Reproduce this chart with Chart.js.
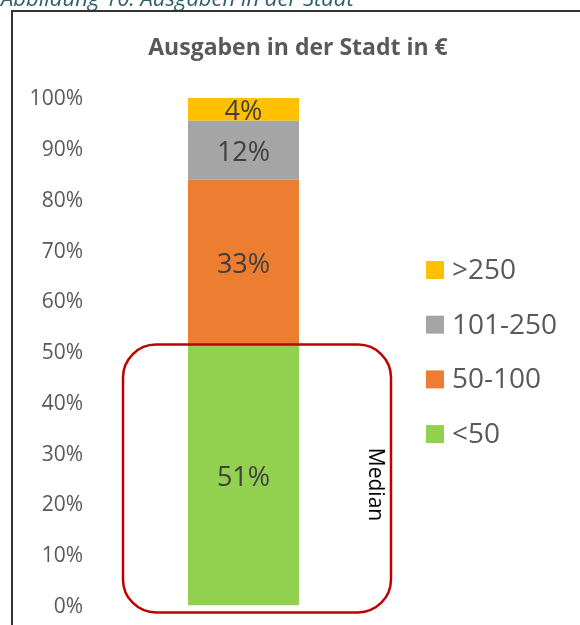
<!DOCTYPE html>
<html>
<head>
<meta charset="utf-8">
<script src="https://cdn.jsdelivr.net/npm/chart.js@4"></script>
<style>
    html, body { margin: 0; padding: 0; background: #fff; }
    canvas { display: block; }
</style>
</head>
<body>
<canvas id="cityChart" width="580" height="625"></canvas>
<script>
/* =========================
   DATA
========================= */

const categories = ["Ausgaben"];
const seriesLabels = ["<50", "50-100", "101-250", ">250"];
const seriesValues = [51.2, 32.7, 11.6, 4.5];
const valueLabels = ["51%", "33%", "12%", "4%"];
const seriesColors = ["#92D050", "#ED7D31", "#A5A5A5", "#FFC000"];
const tickValues = [0, 10, 20, 30, 40, 50, 60, 70, 80, 90, 100];

const FONT = "'Open Sans', 'DejaVu Sans', sans-serif";


/* =========================
   EXTRA DRAWING
========================= */

const decorPlugin = {
    id: "decor",
    afterDatasetsDraw(chart) {
        const ctx = chart.ctx;
        const yScale = chart.scales.y;

        // value labels inside the segments
        ctx.save();
        ctx.font = "27px " + FONT;
        ctx.fillStyle = "#404040";
        ctx.textAlign = "center";
        ctx.textBaseline = "middle";
        chart.data.datasets.forEach((ds, i) => {
            const bar = chart.getDatasetMeta(i).data[0];
            ctx.fillText(valueLabels[i], bar.x, (bar.y + bar.base) / 2 + 3);
        });
        ctx.restore();

        // median box
        const top = yScale.getPixelForValue(seriesValues[0]) - 1;
        const bottom = yScale.getPixelForValue(0) + 7;
        ctx.save();
        ctx.strokeStyle = "#C00000";
        ctx.lineWidth = 2.5;
        ctx.beginPath();
        ctx.roundRect(123, top, 268, bottom - top, 33);
        ctx.stroke();

        ctx.translate(375, (top + bottom) / 2 + 6);
        ctx.rotate(Math.PI / 2);
        ctx.font = "21px " + FONT;
        ctx.fillStyle = "#000";
        ctx.textAlign = "center";
        ctx.textBaseline = "middle";
        ctx.fillText("Median", 0, 0);
        ctx.restore();
    },
    afterDraw(chart) {
        const ctx = chart.ctx;
        ctx.save();

        // caption above the frame
        ctx.font = "italic 22px " + FONT;
        ctx.fillStyle = "#2F5F6E";
        ctx.textBaseline = "alphabetic";
        ctx.fillText("Abbildung 10: Ausgaben in der Stadt", 1, 6);

        // frame
        ctx.strokeStyle = "#333";
        ctx.lineWidth = 2;
        ctx.beginPath();
        ctx.moveTo(12, 625);
        ctx.lineTo(12, 11);
        ctx.lineTo(583, 11);
        ctx.stroke();

        // title
        ctx.font = "bold 23px " + FONT;
        ctx.fillStyle = "#595959";
        ctx.textAlign = "center";
        ctx.fillText("Ausgaben in der Stadt in €", 298, 55);

        // legend (reverse order, top = >250)
        ctx.font = "28px " + FONT;
        ctx.textAlign = "left";
        ctx.textBaseline = "middle";
        const order = seriesLabels.map((_, i) => i).reverse();
        order.forEach((idx, row) => {
            const cy = 270 + row * 54.7;
            ctx.fillStyle = seriesColors[idx];
            ctx.fillRect(426, cy - 9, 18, 18);
            ctx.fillStyle = "#595959";
            ctx.fillText(seriesLabels[idx], 452, cy + 1);
        });

        ctx.restore();
    }
};


/* =========================
   CHART
========================= */

new Chart(document.getElementById("cityChart"), {
    type: "bar",
    data: {
        labels: categories,
        datasets: seriesLabels.map((label, i) => ({
            label: label,
            data: [seriesValues[i]],
            backgroundColor: seriesColors[i],
            borderWidth: 0,
            categoryPercentage: 1,
            barPercentage: 0.3616
        }))
    },
    options: {
        responsive: false,
        animation: false,
        layout: {
            padding: { top: 98, bottom: 19, left: 0, right: 183 }
        },
        plugins: {
            legend: { display: false },
            title: { display: false },
            tooltip: { enabled: false }
        },
        scales: {
            x: {
                stacked: true,
                display: false
            },
            y: {
                stacked: true,
                min: 0,
                max: 100,
                afterFit: (scale) => { scale.width = 90; },
                afterBuildTicks: (scale) => {
                    scale.ticks = tickValues.map(v => ({ value: v }));
                },
                grid: { display: false, drawTicks: false },
                border: { display: false },
                ticks: {
                    padding: 7,
                    labelOffset: 1.5,
                    color: "#595959",
                    font: { family: FONT, size: 21 },
                    callback: (v) => v + "%"
                }
            }
        }
    },
    plugins: [decorPlugin]
});
</script>
</body>
</html>
